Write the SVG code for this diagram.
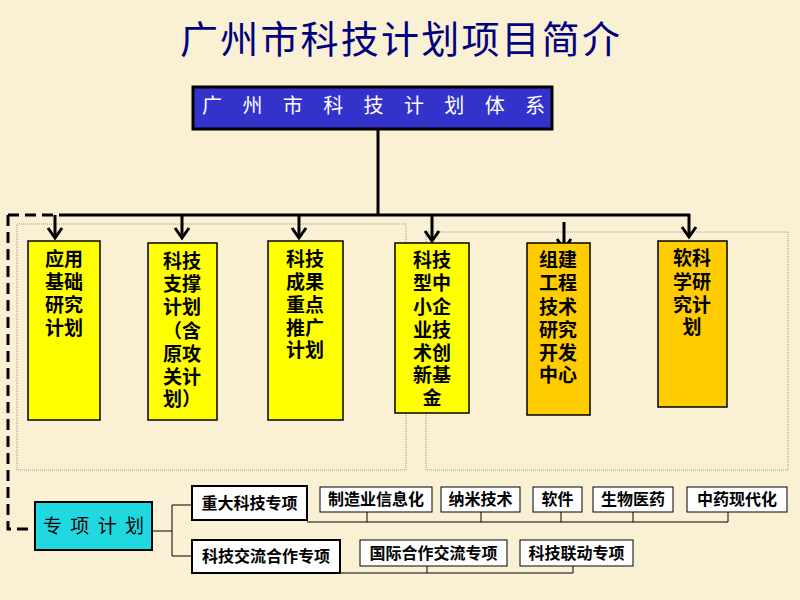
<svg xmlns="http://www.w3.org/2000/svg" width="800" height="600" viewBox="0 0 800 600">
<style>
.cjk{font-family:"Noto Sans CJK SC","Noto Sans CJK JP",sans-serif;}
.vt{font-size:19px;font-weight:bold;fill:#000;text-anchor:middle;}
.sm{font-size:16px;font-weight:bold;fill:#000;text-anchor:middle;}
.yb{fill:#FFFF00;stroke:#000;stroke-width:1.5;}
.ob{fill:#FFCC00;stroke:#000;stroke-width:1.5;}
.wb{fill:#fff;stroke:#000;stroke-width:1;}
.wb2{fill:#fff;stroke:#000;stroke-width:2;}
.thick{stroke:#000;stroke-width:3;fill:none;}
.thin{stroke:#000;stroke-width:1;fill:none;}
.dot{stroke:#999;stroke-width:1;fill:none;stroke-dasharray:1 1;}
</style>
<defs>
<marker id="ah" markerUnits="userSpaceOnUse" markerWidth="20" markerHeight="20" refX="0" refY="0" viewBox="-12 -10 14 20" orient="auto" overflow="visible">
<path d="M-10,-7 L0,0 L-10,7" fill="none" stroke="#000" stroke-width="3"/>
</marker>
</defs>
<rect width="800" height="600" fill="#FAF0D4"/>
<text class="cjk" x="400" y="53" font-size="38" fill="#000080" text-anchor="middle" textLength="440" lengthAdjust="spacing">广州市科技计划项目简介</text>

<rect class="dot" x="17" y="224" width="389" height="246"/>
<rect class="dot" x="426" y="232" width="362" height="238"/>

<g id="connectors">
<line class="thick" x1="378" y1="129" x2="378" y2="216"/>
<polyline class="thick" points="65,215 690,215"/>
<path d="M8,215 L65,215 M8,215 L8,529 L35,529" stroke="#000" stroke-width="3" fill="none" stroke-dasharray="11 6"/>
<line class="thick" x1="55" y1="215" x2="55" y2="238" marker-end="url(#ah)"/>
<line class="thick" x1="182" y1="215" x2="182" y2="238" marker-end="url(#ah)"/>
<line class="thick" x1="299" y1="215" x2="299" y2="238" marker-end="url(#ah)"/>
<line class="thick" x1="432" y1="215" x2="432" y2="241" marker-end="url(#ah)"/>
<line class="thick" x1="564" y1="222" x2="564" y2="249" marker-end="url(#ah)"/>
<line class="thick" x1="689" y1="214" x2="689" y2="237" marker-end="url(#ah)"/>
<path class="thin" d="M152,531 H172 M172,505 V556 M172,505 H192 M172,556 H192"/>
<path class="thin" d="M307,522 H728 M367,512 V522 M481,512 V522 M561,512 V522 M633,512 V522 M728,512 V522"/>
<path class="thin" d="M340,573 H573 M427,566 V573 M573,566 V573"/>
</g>

<g id="n-top">
<rect x="193" y="87" width="359" height="42" fill="#3333CC" stroke="#000" stroke-width="3"/>
<text class="cjk" x="202" y="113" font-size="20" fill="#fff" textLength="343" lengthAdjust="spacing">广 州 市 科 技 计 划 体 系</text>
</g>

<g id="n1">
<rect class="yb" x="28" y="241" width="72" height="179"/>
<text class="cjk vt"><tspan x="64" y="266">应用</tspan><tspan x="64" y="289">基础</tspan><tspan x="64" y="312">研究</tspan><tspan x="64" y="335">计划</tspan></text>
</g>
<g id="n2">
<rect class="yb" x="148" y="243" width="69" height="177"/>
<text class="cjk vt"><tspan x="182" y="268">科技</tspan><tspan x="182" y="291">支撑</tspan><tspan x="182" y="314">计划</tspan><tspan x="182" y="338">（含</tspan><tspan x="182" y="361">原攻</tspan><tspan x="182" y="384">关计</tspan><tspan x="182" y="406">划）</tspan></text>
</g>
<g id="n3">
<rect class="yb" x="268" y="241" width="75" height="179"/>
<text class="cjk vt"><tspan x="305" y="266">科技</tspan><tspan x="305" y="289">成果</tspan><tspan x="305" y="312">重点</tspan><tspan x="305" y="335">推广</tspan><tspan x="305" y="357">计划</tspan></text>
</g>
<g id="n4">
<rect class="yb" x="395" y="243" width="74" height="170"/>
<text class="cjk vt"><tspan x="432" y="267">科技</tspan><tspan x="432" y="290">型中</tspan><tspan x="432" y="314">小企</tspan><tspan x="432" y="337">业技</tspan><tspan x="432" y="360">术创</tspan><tspan x="432" y="382">新基</tspan><tspan x="432" y="405">金</tspan></text>
</g>
<g id="n5">
<rect class="ob" x="527" y="243" width="63" height="172"/>
<text class="cjk vt"><tspan x="558" y="267">组建</tspan><tspan x="558" y="290">工程</tspan><tspan x="558" y="314">技术</tspan><tspan x="558" y="337">研究</tspan><tspan x="558" y="360">开发</tspan><tspan x="558" y="382">中心</tspan></text>
</g>
<g id="n6">
<rect class="ob" x="658" y="241" width="69" height="166"/>
<text class="cjk vt"><tspan x="692" y="265">软科</tspan><tspan x="692" y="289">学研</tspan><tspan x="692" y="312">究计</tspan><tspan x="692" y="334">划</tspan></text>
</g>

<g id="n-zx">
<rect x="35" y="502" width="117" height="48" fill="#20D8E0" stroke="#000" stroke-width="2"/>
<text class="cjk" x="43" y="533" font-size="19" fill="#000" textLength="101" lengthAdjust="spacing">专 项 计 划</text>
</g>
<g id="n-zd">
<rect class="wb2" x="192" y="486" width="115" height="34"/>
<text class="cjk sm" x="249.5" y="509">重大科技专项</text>
</g>
<g id="n-jl">
<rect class="wb2" x="192" y="540" width="148" height="33"/>
<text class="cjk sm" x="266" y="562">科技交流合作专项</text>
</g>
<g id="n-r1a"><rect class="wb" x="320" y="487" width="112" height="25"/><text class="cjk sm" x="376" y="505">制造业信息化</text></g>
<g id="n-r1b"><rect class="wb" x="441" y="487" width="79" height="25"/><text class="cjk sm" x="480.5" y="505">纳米技术</text></g>
<g id="n-r1c"><rect class="wb" x="533" y="487" width="49" height="25"/><text class="cjk sm" x="557.5" y="505">软件</text></g>
<g id="n-r1d"><rect class="wb" x="593" y="487" width="80" height="25"/><text class="cjk sm" x="633" y="505">生物医药</text></g>
<g id="n-r1e"><rect class="wb" x="687" y="487" width="100" height="25"/><text class="cjk sm" x="737" y="505">中药现代化</text></g>
<g id="n-r2a"><rect class="wb" x="360" y="540" width="147" height="26"/><text class="cjk sm" x="433.5" y="559">国际合作交流专项</text></g>
<g id="n-r2b"><rect class="wb" x="520" y="540" width="113" height="26"/><text class="cjk sm" x="576.5" y="559">科技联动专项</text></g>
</svg>
